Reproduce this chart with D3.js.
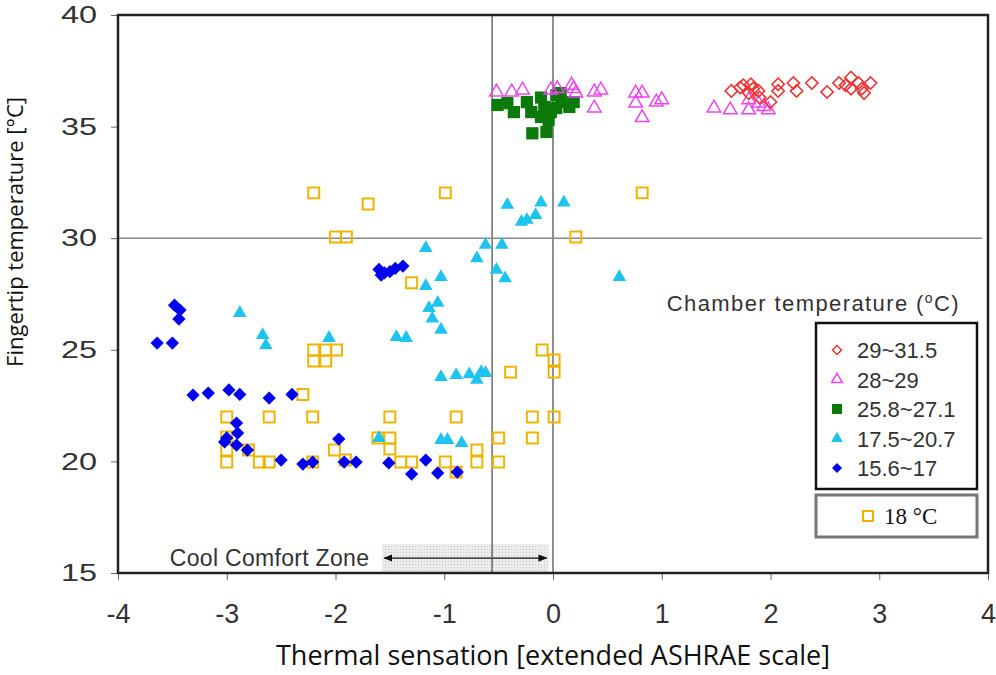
<!DOCTYPE html>
<html>
<head>
<meta charset="utf-8">
<script src="https://cdn.jsdelivr.net/npm/d3@7"></script>
<style>
  body { margin: 0; background: #fff; overflow: hidden; }
  svg { display: block; }
  .tick text { font-family: "Liberation Sans", Arial, sans-serif; fill: #333; }
  .x-axis .tick text { font-size: 27px; }
  .y-axis .tick text { font-size: 24px; }
  .tick line { stroke: #666; }
</style>
</head>
<body>
<svg id="chart"></svg>
<script>
// thermal sensation vs fingertip temperature, grouped by chamber temperature
const xTicks = [-4, -3, -2, -1, 0, 1, 2, 3, 4];
const yTicks = [15, 20, 25, 30, 35, 40];

const red29 = [
  [1.64, 36.6], [1.72, 36.75], [1.75, 36.85], [1.82, 36.9], [1.84, 36.7], [1.89, 36.6],
  [1.80, 36.5], [1.90, 36.3], [2.00, 36.1], [2.07, 36.9], [2.07, 36.6], [2.21, 36.95],
  [2.24, 36.6], [2.38, 36.95], [2.52, 36.55], [2.63, 36.95], [2.69, 36.85], [2.74, 37.2],
  [2.74, 36.7], [2.81, 36.95], [2.84, 36.7], [2.86, 36.5], [2.92, 36.95]
];
const magenta28 = [
  [-0.52, 36.55], [-0.38, 36.55], [-0.28, 36.64], [-0.02, 36.64], [0.04, 36.7], [0.17, 36.85],
  [0.19, 36.7], [0.21, 36.5], [0.38, 36.55], [0.44, 36.64], [0.38, 35.83], [0.76, 36.5],
  [0.82, 36.5], [0.76, 36.05], [0.95, 36.1], [1.00, 36.2], [0.82, 35.4], [1.48, 35.83],
  [1.63, 35.75], [1.80, 36.2], [1.80, 35.75], [1.89, 36.05], [1.94, 35.9], [1.98, 35.75]
];
const green25 = [
  [-0.51, 35.97], [-0.42, 36.05], [-0.36, 35.65], [-0.24, 36.1], [-0.20, 35.65], [-0.11, 36.3],
  [-0.08, 35.88], [-0.11, 35.43], [-0.04, 35.3], [-0.19, 34.7], [-0.06, 34.76], [0.03, 36.4],
  [0.08, 36.1], [0.15, 35.88], [0.03, 35.83], [0.07, 36.5], [0.19, 36.1], [-0.02, 35.65]
];
const cyan17 = [
  [-0.42, 31.49], [-0.29, 30.73], [-0.24, 30.82], [-0.16, 31.04], [-0.11, 31.6], [0.10, 31.6],
  [-1.17, 29.56], [-0.62, 29.7], [-0.47, 29.7], [-0.70, 29.1], [-0.52, 28.58], [-0.44, 28.2],
  [-1.03, 28.26], [-1.17, 27.86], [-1.06, 27.1], [-1.14, 26.87], [-1.11, 26.4], [-1.03, 25.9],
  [-1.44, 25.57], [-1.35, 25.53], [-1.03, 23.78], [-0.89, 23.87], [-0.77, 23.9], [-0.66, 24.0],
  [-0.70, 23.65], [-0.62, 23.96], [-1.03, 20.96], [-0.97, 20.96], [-0.84, 20.82], [-1.60, 21.05],
  [0.61, 28.26], [-2.88, 26.65], [-2.67, 25.66], [-2.64, 25.2], [-2.06, 25.53]
];
const blue15 = [
  [-3.48, 27.0], [-3.43, 26.78], [-3.44, 26.38], [-3.64, 25.3], [-3.50, 25.3], [-3.31, 22.97],
  [-3.17, 23.06], [-2.98, 23.2], [-2.88, 23.0], [-2.61, 22.84], [-2.40, 23.0], [-2.91, 21.72],
  [-2.90, 21.27], [-3.00, 21.05], [-2.91, 20.73], [-3.02, 20.87], [-2.81, 20.51], [-2.50, 20.06],
  [-2.30, 19.88], [-2.21, 19.97], [-1.97, 21.0], [-1.92, 19.97], [-1.81, 19.97], [-1.60, 28.6],
  [-1.55, 28.45], [-1.50, 28.5], [-1.45, 28.65], [-1.38, 28.75], [-1.58, 28.35], [-1.51, 19.93],
  [-1.30, 19.43], [-1.17, 20.06], [-1.06, 19.48], [-0.88, 19.52]
];
const yellow18 = [
  [-2.20, 32.03], [-1.70, 31.53], [-2.00, 30.05], [-1.90, 30.05], [-0.99, 32.03], [0.82, 32.03],
  [0.21, 30.05], [-1.30, 28.0], [-2.20, 24.99], [-2.09, 24.99], [-1.99, 24.99], [-2.20, 24.5],
  [-2.09, 24.5], [-2.30, 23.0], [-3.00, 21.99], [-2.61, 21.99], [-2.21, 21.99], [-3.00, 21.09],
  [-3.00, 20.51], [-3.00, 19.97], [-2.80, 20.51], [-2.70, 19.97], [-2.61, 19.97], [-2.21, 19.97],
  [-2.01, 20.51], [-1.91, 20.06], [-1.50, 21.99], [-0.89, 21.99], [-1.61, 21.05], [-1.50, 21.05],
  [-1.50, 20.56], [-1.40, 19.97], [-1.30, 19.97], [-0.99, 19.97], [-0.89, 19.52], [-0.70, 20.51],
  [-0.70, 19.97], [-0.50, 21.05], [-0.50, 19.97], [-0.39, 24.0], [-0.10, 24.99], [0.01, 24.54],
  [0.01, 24.0], [-0.19, 21.99], [0.01, 21.99], [-0.19, 21.05]
];

const refX = [-0.56, 0];
const refY = [30];
const comfortZone = [-1.57, -0.04];
const legendLabels = ['29~31.5', '28~29', '25.8~27.1', '17.5~20.7', '15.6~17'];

const width = 996;
const height = 675;
const margin = { top: 15, right: 8, bottom: 102, left: 118 };
const innerWidth = width - margin.left - margin.right;
const innerHeight = height - margin.top - margin.bottom;

const svg = d3.select('#chart')
  .attr('width', width)
  .attr('height', height);

const defs = svg.append('defs');
const pat = defs.append('pattern')
  .attr('id', 'dots')
  .attr('width', 3)
  .attr('height', 3)
  .attr('patternUnits', 'userSpaceOnUse');
pat.append('rect').attr('width', 3).attr('height', 3).attr('fill', '#ececec');
pat.append('rect').attr('width', 1).attr('height', 1).attr('fill', '#c8c8c8');

defs.append('marker')
  .attr('id', 'arrow')
  .attr('viewBox', '0 0 10 10')
  .attr('refX', 9).attr('refY', 5)
  .attr('markerWidth', 7).attr('markerHeight', 7)
  .attr('orient', 'auto-start-reverse')
  .append('path')
    .attr('d', 'M0,1 L10,5 L0,9 Z')
    .attr('fill', '#111');

const g = svg.append('g')
  .attr('transform', `translate(${margin.left}, ${margin.top})`);

const x = d3.scaleLinear().domain([-4, 4]).range([0, innerWidth]);
const y = d3.scaleLinear().domain([15, 40]).range([innerHeight, 0]);

// Comfort zone band
g.append('rect')
  .attr('x', x(comfortZone[0]))
  .attr('y', y(16.3))
  .attr('width', x(comfortZone[1]) - x(comfortZone[0]))
  .attr('height', y(15) - y(16.3))
  .attr('fill', 'url(#dots)');

g.append('line')
  .attr('x1', x(comfortZone[0]) + 2)
  .attr('x2', x(comfortZone[1]) - 2)
  .attr('y1', y(15.67))
  .attr('y2', y(15.67))
  .attr('stroke', '#111')
  .attr('stroke-width', 1.3)
  .attr('marker-start', 'url(#arrow)')
  .attr('marker-end', 'url(#arrow)');

g.append('text')
  .attr('x', x(comfortZone[0]) - 13)
  .attr('y', y(15.67) + 8)
  .attr('text-anchor', 'end')
  .style('font-family', '"Liberation Sans", Arial, sans-serif')
  .style('font-size', '23px')
  .style('letter-spacing', '0.3px')
  .style('fill', '#333')
  .text('Cool Comfort Zone');

// Reference lines
g.selectAll('.vref')
  .data(refX)
  .enter().append('line')
    .attr('class', 'vref')
    .attr('x1', d => x(d)).attr('x2', d => x(d))
    .attr('y1', 0).attr('y2', innerHeight)
    .attr('stroke', '#555')
    .attr('stroke-width', 1.3);

g.selectAll('.href')
  .data(refY)
  .enter().append('line')
    .attr('class', 'href')
    .attr('x1', 0).attr('x2', innerWidth - 6)
    .attr('y1', d => y(d)).attr('y2', d => y(d))
    .attr('stroke', '#888')
    .attr('stroke-width', 1.5);

// Axes (plain hyphen minus like the original)
const fmt = d => String(d);
const xAxis = d3.axisBottom(x).tickValues(xTicks).tickFormat(fmt)
  .tickSize(7).tickSizeOuter(0).tickPadding(24);
const yAxis = d3.axisLeft(y).tickValues(yTicks).tickFormat(fmt)
  .tickSize(7).tickSizeOuter(0).tickPadding(14);

g.append('g')
  .attr('class', 'x-axis')
  .attr('transform', `translate(0, ${innerHeight})`)
  .call(xAxis)
  .select('.domain').remove();

// y labels in the original are stretched wide, so widen them a bit
const yStretch = 1.35;
const yAxisG = g.append('g')
  .attr('class', 'y-axis')
  .call(yAxis);
yAxisG.select('.domain').remove();
yAxisG.selectAll('.tick text')
  .attr('x', -21 / yStretch)
  .attr('transform', `scale(${yStretch}, 1)`);

// Plot frame
g.append('rect')
  .attr('x', 0).attr('y', 0)
  .attr('width', innerWidth).attr('height', innerHeight)
  .attr('fill', 'none')
  .attr('stroke', '#222')
  .attr('stroke-width', 2.5);

// Series
const sym = (type, size) => d3.symbol().type(type).size(size)();

const series = [
  { data: yellow18, path: sym(d3.symbolSquare, 120), rot: 0, fill: 'none', stroke: '#f0b400', sw: 2 },
  { data: blue15, path: sym(d3.symbolSquare, 88), rot: 45, fill: '#0000f0', stroke: 'none', sw: 0 },
  { data: cyan17, path: sym(d3.symbolTriangle, 80), rot: 0, fill: '#1ec4f0', stroke: 'none', sw: 0 },
  { data: green25, path: sym(d3.symbolSquare, 150), rot: 0, fill: '#0b7a0b', stroke: 'none', sw: 0 },
  { data: magenta28, path: sym(d3.symbolTriangle, 80), rot: 0, fill: 'none', stroke: '#ee44ee', sw: 1.5 },
  { data: red29, path: sym(d3.symbolSquare, 76), rot: 45, fill: 'none', stroke: '#ee3333', sw: 1.6 }
];

series.forEach(s => {
  g.append('g')
    .selectAll('path')
    .data(s.data)
    .enter().append('path')
      .attr('d', s.path)
      .attr('transform', d => `translate(${x(d[0])}, ${y(d[1])}) rotate(${s.rot})`)
      .attr('fill', s.fill)
      .attr('stroke', s.stroke)
      .attr('stroke-width', s.sw);
});

// Axis titles
svg.append('text')
  .attr('x', margin.left + x(0))
  .attr('y', 665)
  .attr('text-anchor', 'middle')
  .style('font-family', '"Open Sans", sans-serif')
  .style('font-size', '27px')
  .style('fill', '#111')
  .text('Thermal sensation [extended ASHRAE scale]');

svg.append('text')
  .attr('transform', `translate(23, ${232}) rotate(-90)`)
  .attr('text-anchor', 'middle')
  .style('font-family', '"Open Sans", sans-serif')
  .style('font-size', '22px')
  .style('fill', '#111')
  .text('Fingertip temperature [°C]');

// Legend
const chamber = svg.append('text')
  .attr('x', 960)
  .attr('y', 311)
  .attr('text-anchor', 'end')
  .style('font-family', '"Liberation Sans", Arial, sans-serif')
  .style('font-size', '22px')
  .style('letter-spacing', '1.4px')
  .style('fill', '#333');
chamber.append('tspan').text('Chamber temperature (');
chamber.append('tspan').attr('font-size', '14px').attr('dy', -8).text('o');
chamber.append('tspan').attr('dy', 8).text('C)');

svg.append('rect')
  .attr('x', 816).attr('y', 323)
  .attr('width', 161).attr('height', 166)
  .attr('fill', '#fff')
  .attr('stroke', '#111')
  .attr('stroke-width', 2.5);

const legendSeries = [
  { path: sym(d3.symbolSquare, 40), rot: 45, fill: 'none', stroke: '#ee3333', sw: 1.5 },
  { path: sym(d3.symbolTriangle, 50), rot: 0, fill: 'none', stroke: '#ee44ee', sw: 1.5 },
  { path: sym(d3.symbolSquare, 100), rot: 0, fill: '#0b7a0b', stroke: 'none', sw: 0 },
  { path: sym(d3.symbolTriangle, 60), rot: 0, fill: '#1ec4f0', stroke: 'none', sw: 0 },
  { path: sym(d3.symbolSquare, 50), rot: 45, fill: '#0000f0', stroke: 'none', sw: 0 }
];

const legend = svg.append('g');
legendLabels.forEach((label, i) => {
  const ly = 350 + i * 29.5;
  const s = legendSeries[i];
  legend.append('path')
    .attr('d', s.path)
    .attr('transform', `translate(837, ${ly}) rotate(${s.rot})`)
    .attr('fill', s.fill)
    .attr('stroke', s.stroke)
    .attr('stroke-width', s.sw);
  legend.append('text')
    .attr('x', 857)
    .attr('y', ly + 8)
    .style('font-family', '"Liberation Sans", Arial, sans-serif')
    .style('font-size', '22px')
    .style('fill', '#333')
    .text(label);
});

svg.append('rect')
  .attr('x', 816).attr('y', 495)
  .attr('width', 161).attr('height', 42)
  .attr('fill', '#fff')
  .attr('stroke', '#777')
  .attr('stroke-width', 3);

svg.append('path')
  .attr('d', sym(d3.symbolSquare, 100))
  .attr('transform', 'translate(868, 516)')
  .attr('fill', 'none')
  .attr('stroke', '#f0b400')
  .attr('stroke-width', 2);

svg.append('text')
  .attr('x', 884)
  .attr('y', 524)
  .style('font-family', '"Liberation Serif", serif')
  .style('font-size', '23px')
  .style('fill', '#111')
  .text('18 °C');
</script>
</body>
</html>
